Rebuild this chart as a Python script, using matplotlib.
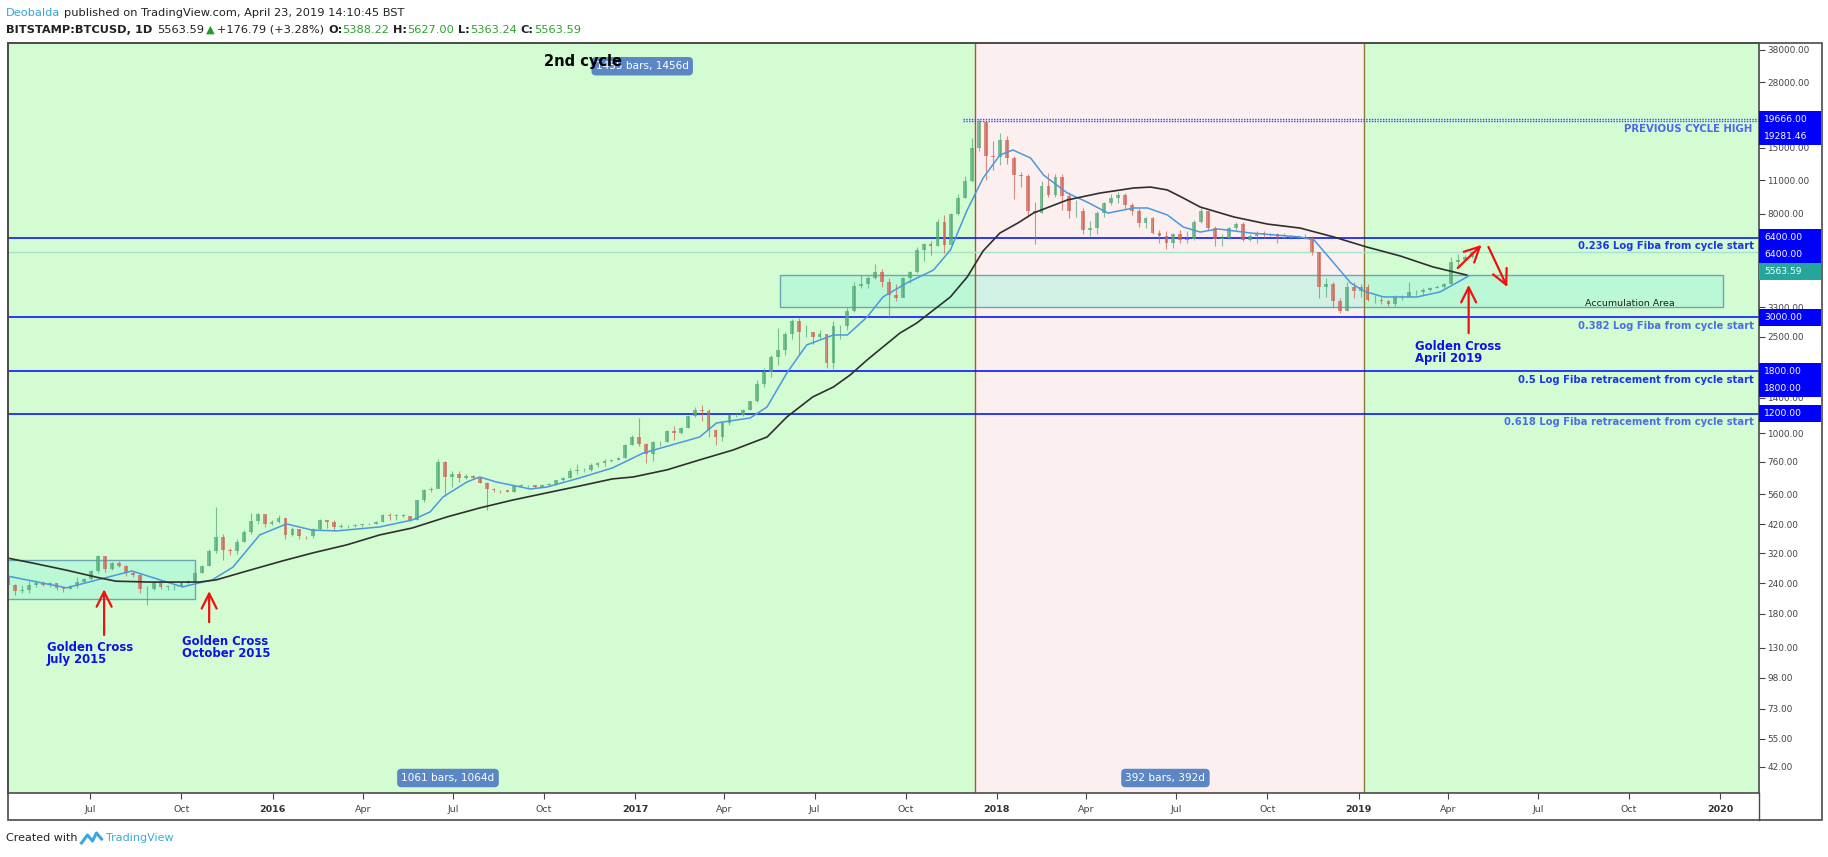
import numpy as np
import pandas as pd
import matplotlib
matplotlib.use('Agg')
import matplotlib.pyplot as plt
import matplotlib.dates as mdates
import matplotlib.ticker as mticker
from matplotlib.patches import Rectangle
from matplotlib.lines import Line2D
from matplotlib.transforms import blended_transform_factory

# ---------------- data (weekly candles, Bitstamp BTCUSD) ----------------
first_week = '2015-04-06'
first_open = 254.0

close_2015 = [236, 223, 226, 236, 240, 236, 240, 230, 228, 233, 244, 250, 270,
              310, 276, 291, 283, 265, 261, 228, 228, 240, 231, 233, 233, 240,
              245, 265, 284, 326, 373, 330, 325, 357, 390, 433, 465, 420, 430]
high_2015 = [261, 238, 237, 245, 247, 245, 242, 241, 232, 237, 256, 252, 272,
             315, 310, 293, 298, 285, 270, 265, 235, 242, 245, 237, 236, 242,
             248, 270, 286, 332, 495, 385, 335, 365, 400, 466, 470, 460, 440]
low_2015 = [234, 215, 218, 218, 231, 233, 232, 226, 221, 227, 230, 240, 248,
            266, 268, 272, 280, 258, 256, 220, 195, 226, 228, 225, 225, 234,
            236, 245, 265, 282, 320, 300, 315, 318, 355, 385, 420, 410, 418]

close_2016 = [448, 380, 401, 378, 375, 402, 438, 431, 410, 412, 415, 416, 420,
              423, 430, 460, 455, 459, 455, 440, 530, 580, 590, 760, 660, 680,
              650, 665, 655, 624, 590, 585, 581, 573, 607, 608, 610, 600, 612,
              615, 640, 655, 700, 705, 705, 740, 755, 770, 775, 790, 895, 960]
high_2016 = [458, 448, 410, 404, 378, 405, 443, 440, 440, 420, 418, 420, 423,
             426, 433, 465, 468, 465, 462, 456, 530, 590, 600, 780, 770, 700,
             700, 680, 670, 660, 630, 595, 585, 585, 610, 615, 612, 610, 614,
             620, 642, 660, 715, 745, 720, 750, 760, 778, 780, 795, 905, 980]
low_2016 = [425, 365, 375, 366, 365, 370, 400, 405, 395, 405, 405, 410, 410,
            416, 420, 428, 440, 440, 450, 435, 440, 520, 570, 600, 550, 600,
            630, 645, 650, 620, 480, 570, 565, 570, 570, 600, 600, 595, 598,
            605, 612, 635, 650, 680, 690, 700, 725, 730, 758, 775, 790, 890]

close_2017 = [900, 820, 920, 920, 1020, 1000, 1050, 1170, 1250, 1230, 1030, 960, 1100,
              1190, 1190, 1250, 1350, 1600, 1780, 2050, 2200, 2550, 2900, 2600, 2600, 2500,
              2550, 1950, 2750, 2750, 3200, 4050, 4100, 4350, 4600, 4200, 3700, 3600, 4350,
              4600, 5700, 6000, 5900, 7400, 5950, 8000, 9300, 10900, 15000, 19100, 13900, 13800]
high_2017 = [1150, 910, 930, 925, 1030, 1065, 1055, 1185, 1280, 1300, 1260, 1040, 1110,
             1200, 1210, 1260, 1350, 1650, 1850, 2100, 2700, 2600, 2950, 2980, 2800, 2600,
             2650, 2550, 2900, 2800, 3300, 4200, 4480, 4450, 4980, 4750, 4350, 4100, 4400,
             4650, 5850, 6100, 6200, 7600, 7900, 8100, 9700, 11500, 16500, 19666, 19200, 16000]
low_2017 = [880, 750, 770, 880, 915, 940, 990, 1045, 1160, 1120, 960, 890, 930,
            1080, 1160, 1180, 1240, 1340, 1550, 1700, 1900, 2100, 2450, 2100, 2500, 2320,
            2450, 1850, 1840, 2450, 2650, 3150, 3950, 3950, 4300, 4000, 2980, 3500, 3650,
            4150, 4550, 5100, 5400, 5900, 5500, 6300, 7900, 9300, 10800, 14500, 11000, 12100]

close_2018 = [16200, 13600, 11600, 11500, 8200, 8100, 10400, 9600, 11400, 9500, 8200, 8200, 6900,
              7000, 8100, 8900, 9300, 9600, 8700, 8200, 7350, 7700, 6700, 6500, 6100, 6600,
              6250, 6300, 7400, 8200, 7000, 6300, 6400, 7000, 7300, 6250, 6500, 6700, 6600,
              6600, 6400, 6450, 6350, 6400, 6350, 5600, 4000, 4100, 3500, 3200, 4000, 3850, 4000]
high_2018 = [17200, 16700, 13900, 11900, 11700, 9000, 10900, 11800, 11700, 11700, 9900, 9100, 8500,
             7500, 8200, 9000, 9700, 9900, 9800, 8900, 8500, 7800, 7800, 6900, 6800, 6650,
             6850, 6800, 7580, 8500, 8250, 7150, 6600, 7100, 7400, 7400, 6600, 6800, 6800,
             6700, 6700, 6650, 6550, 6550, 6600, 6500, 5600, 4350, 4200, 3600, 4200, 4200, 4100]
low_2018 = [12700, 12800, 9200, 10300, 7800, 6000, 8100, 9400, 9400, 8300, 7700, 7800, 6600,
            6500, 6600, 7800, 8700, 8900, 8400, 7950, 7100, 7000, 6600, 6100, 5750, 5800,
            6100, 6070, 6250, 7350, 6900, 5900, 5900, 6300, 6900, 6200, 6200, 6100, 6400,
            6500, 6100, 6350, 6300, 6300, 6300, 5400, 3600, 3650, 3300, 3122, 3200, 3600, 3650]

close_2019 = [3550, 3550, 3500, 3400, 3650, 3650, 3800, 3800, 3900, 3950, 4000, 4100,
              5050, 5150, 5300, 5563.59]
high_2019 = [4100, 3700, 3650, 3550, 3700, 3700, 4200, 3900, 3950, 4000, 4080, 4150,
             5300, 5450, 5400, 5627]
low_2019 = [3500, 3450, 3400, 3350, 3350, 3550, 3650, 3700, 3700, 3850, 3950, 3960,
            4100, 4900, 5100, 5250]

# 50 day (blue) and 200 day (black) moving averages, read at points along the curves
ma50_dates = ['2015-04-07', '2015-06-07', '2015-08-12', '2015-10-02', '2015-11-01', '2015-11-22',
              '2015-12-19', '2016-01-15', '2016-02-10', '2016-03-06', '2016-04-18', '2016-05-21',
              '2016-06-08', '2016-06-21', '2016-07-15', '2016-07-28', '2016-08-14', '2016-09-17',
              '2016-10-04', '2016-11-06', '2016-12-09', '2017-01-09', '2017-03-07', '2017-03-24',
              '2017-04-27', '2017-05-14', '2017-06-03', '2017-06-23', '2017-07-20', '2017-08-03',
              '2017-08-23', '2017-09-08', '2017-10-02', '2017-10-29', '2017-11-15', '2017-12-02',
              '2017-12-18', '2018-01-04', '2018-01-17', '2018-02-04', '2018-02-17', '2018-03-13',
              '2018-04-02', '2018-04-23', '2018-05-19', '2018-06-02', '2018-06-22', '2018-07-08',
              '2018-07-25', '2018-08-12', '2018-09-14', '2018-11-03', '2018-11-17', '2018-12-07',
              '2018-12-24', '2019-01-06', '2019-01-26', '2019-03-01', '2019-03-24', '2019-04-06',
              '2019-04-22']
ma50_vals = [258, 230, 270, 232, 248, 280, 380, 422, 398, 395, 410, 438, 473, 545, 628, 659, 628,
             588, 599, 653, 718, 827, 963, 1100, 1154, 1281, 1769, 2308, 2537, 2537, 3008, 3640,
             4157, 4700, 5682, 8310, 11260, 14000, 14690, 13610, 11580, 9760, 8960, 8070, 8470,
             8470, 7925, 7070, 6740, 6940, 6680, 6430, 6250, 5020, 4157, 3850, 3640, 3640, 3815,
             4080, 4440]

ma200_dates = ['2015-04-07', '2015-05-04', '2015-06-07', '2015-07-10', '2015-07-27', '2015-08-30',
               '2015-10-19', '2015-11-05', '2015-12-09', '2016-01-11', '2016-02-10', '2016-03-16',
               '2016-04-18', '2016-05-21', '2016-06-25', '2016-07-28', '2016-08-30', '2016-10-04',
               '2016-11-06', '2016-12-09', '2016-12-30', '2017-02-02', '2017-03-07', '2017-04-10',
               '2017-05-14', '2017-06-03', '2017-06-29', '2017-07-20', '2017-08-06', '2017-08-23',
               '2017-09-08', '2017-09-25', '2017-10-12', '2017-10-29', '2017-11-15', '2017-12-02',
               '2017-12-18', '2018-01-04', '2018-01-22', '2018-02-07', '2018-03-13', '2018-04-15',
               '2018-05-19', '2018-06-05', '2018-06-22', '2018-07-08', '2018-07-25', '2018-08-28',
               '2018-10-01', '2018-11-03', '2018-12-07', '2019-01-09', '2019-02-12', '2019-03-17',
               '2019-04-20']
ma200_vals = [306, 291, 272, 253, 245, 243, 243, 248, 272, 297, 320, 346, 380, 406, 451, 491, 529,
              567, 605, 647, 659, 705, 775, 852, 963, 1165, 1408, 1549, 1737, 2002, 2265, 2582,
              2840, 3215, 3640, 4400, 5630, 6680, 7340, 8080, 9140, 9760, 10240, 10330, 10050,
              9310, 8550, 7780, 7270, 7000, 6430, 5850, 5370, 4840, 4480]

fib_levels = [6400, 3000, 1800, 1200]
fib_labels = ['0.236 Log Fiba from cycle start', '0.382 Log Fiba from cycle start',
              '0.5 Log Fiba retracement from cycle start', '0.618 Log Fiba retracement from cycle start']
fib_colors = ['#1a36e6', '#4a6fe3', '#1a36e6', '#4a6fe3']
prev_highs = [19666, 19281.46]
last_price = 5563.59
cycle_edges = ['2017-12-10', '2019-01-06']

ytick_vals = [38000, 28000, 15000, 11000, 8000, 3300, 2500, 1400, 1000, 760, 560, 420, 320,
              240, 180, 130, 98, 73, 55, 42]
price_boxes = [19666, 19281.46, 6400, 6400, 5563.59, 3000, 1800, 1800, 1200]

# ---------------- figure ----------------
W, H = 1828, 857
fig = plt.figure(figsize=(W / 100, H / 100), dpi=100)
fig.patch.set_facecolor('white')
ax = fig.add_axes([8 / W, 1 - 793 / H, (1759 - 8) / W, (793 - 43) / H])
ax.set_yscale('log')
ax.set_ylim(32.8, 40560)
x0, x1 = mdates.datestr2num('2015-04-09'), mdates.datestr2num('2020-02-09')
ax.set_xlim(x0, x1)

def d(s):
    return mdates.datestr2num(s)

# background cycle shading
e1, e2 = d(cycle_edges[0]), d(cycle_edges[1])
ax.axvspan(x0, e1, color='#d3fcd3', lw=0, zorder=0)
ax.axvspan(e1, e2, color='#fbefef', lw=0, zorder=0)
ax.axvspan(e2, x1, color='#d3fcd3', lw=0, zorder=0)
ax.axvline(e1, color='#b4532f', lw=1.0, zorder=2)
ax.axvline(e2, color='#8c7a3a', lw=1.0, zorder=2)

# accumulation rectangles
for (a, b, lo, hi) in [('2015-03-20', '2015-10-15', 207, 300), ('2017-05-27', '2020-01-04', 3310, 4480)]:
    ax.add_patch(Rectangle((d(a), lo), d(b) - d(a), hi - lo, fc='#9ff5d9', alpha=0.45,
                           lw=0, zorder=1))
    ax.add_patch(Rectangle((d(a), lo), d(b) - d(a), hi - lo, fill=False, ec='#6aa6b4',
                           lw=1.0, zorder=1.5))
ax.text(d('2019-10-02'), 3420, 'Accumulation Area', ha='center', va='center', fontsize=6.8,
        color='#222222', zorder=6)

# fib lines and labels
tr = blended_transform_factory(ax.transAxes, ax.transData)
for lvl, lab, col in zip(fib_levels, fib_labels, fib_colors):
    ax.axhline(lvl, color='#0a1aff', lw=1.2, zorder=2)
    ax.annotate(lab, xy=(0.997, lvl), xycoords=tr, xytext=(0, -2.5), textcoords='offset points',
                ha='right', va='top', fontsize=7.2, fontweight='bold', color=col, zorder=6)

# last price line
ax.axhline(last_price, color='#a6e3c9', lw=1.0, zorder=2)

# previous cycle high (dotted)
for ph in prev_highs:
    ax.hlines(ph, d('2017-11-28'), x1, colors='#3a4cff', linestyles=(0, (1, 1)), lw=1.0, zorder=2)
ax.annotate('PREVIOUS CYCLE HIGH', xy=(0.996, prev_highs[1]), xycoords=tr, xytext=(0, -2),
            textcoords='offset points', ha='right', va='top', fontsize=7.3, fontweight='bold',
            color='#4f66ee', zorder=6)

# candles
closes = np.array(close_2015 + close_2016 + close_2017 + close_2018 + close_2019, dtype=float)
highs = np.array(high_2015 + high_2016 + high_2017 + high_2018 + high_2019, dtype=float)
lows = np.array(low_2015 + low_2016 + low_2017 + low_2018 + low_2019, dtype=float)
opens = np.concatenate([[first_open], closes[:-1]])
weeks = pd.date_range(first_week, periods=len(closes), freq='7D')
xc = mdates.date2num(weeks.to_pydatetime()) + 3.0
up = closes >= opens
cols = np.where(up, '#4fa874', '#cf5f4f')
ax.vlines(xc, lows, highs, colors=cols, lw=0.8, alpha=0.7, zorder=3)
ax.bar(xc, np.abs(closes - opens), bottom=np.minimum(opens, closes), width=3.8, color=cols,
       alpha=0.7, lw=0, zorder=3)

# moving averages
ax.plot([d(s) for s in ma50_dates], ma50_vals, color='#4b98dc', lw=1.1, zorder=4)
ax.plot([d(s) for s in ma200_dates], ma200_vals, color='#2f2f2f', lw=1.2, zorder=4)

# golden cross arrows + text
arr = dict(arrowstyle='->,head_length=0.9,head_width=0.45', color='#f01010', lw=1.6,
           shrinkA=0, shrinkB=0, mutation_scale=12)
for head, tail in [(('2015-07-15', 227), ('2015-07-15', 147)),
                   (('2015-10-29', 223), ('2015-10-29', 166)),
                   (('2019-04-22', 4080), ('2019-04-22', 2582)),
                   (('2019-05-05', 5960), ('2019-04-11', 4790)),
                   (('2019-05-31', 4000), ('2019-05-12', 5850))]:
    ax.annotate('', xy=(d(head[0]), head[1]), xytext=(d(tail[0]), tail[1]), arrowprops=arr,
                zorder=6)
gc_style = dict(fontsize=8.4, fontweight='bold', color='#1010e8', ha='left', va='top',
                linespacing=0.95, zorder=6)
ax.text(d('2015-05-18'), 139, 'Golden Cross\nJuly 2015', **gc_style)
ax.text(d('2015-10-02'), 147, 'Golden Cross\nOctober 2015', **gc_style)
ax.text(d('2019-02-27'), 2420, 'Golden Cross\nApril 2019', **gc_style)

# date range labels
trx = blended_transform_factory(ax.transData, ax.transAxes)
box = dict(boxstyle='round,pad=0.4', fc='#5b87c5', ec='none')
ax.text(d('2017-01-08'), 0.969, '1455 bars, 1456d', transform=trx, ha='center', va='center',
        fontsize=7.6, color='white', bbox=box, zorder=6)
ax.text(d('2016-06-26'), 0.02, '1061 bars, 1064d', transform=trx, ha='center', va='center',
        fontsize=7.6, color='white', bbox=box, zorder=6)
ax.text(d('2018-06-20'), 0.02, '392 bars, 392d', transform=trx, ha='center', va='center',
        fontsize=7.6, color='white', bbox=box, zorder=6)
ax.text(d('2016-10-01'), 0.975, '2nd cycle', transform=trx, ha='left', va='center',
        fontsize=10.5, fontweight='bold', color='black', zorder=7)

# axes styling
for sp in ax.spines.values():
    sp.set_color('#4a4a4a')
    sp.set_linewidth(1.2)
ax.yaxis.tick_right()
ax.set_yticks(ytick_vals)
ax.set_yticklabels(['%.2f' % v for v in ytick_vals])
ax.yaxis.set_minor_locator(mticker.NullLocator())
ax.tick_params(axis='y', labelsize=6.4, colors='#444444', length=4, width=0.8, pad=2)

xt = pd.date_range('2015-07-01', '2020-01-01', freq='QS')
ax.set_xticks(mdates.date2num(xt.to_pydatetime()))
ax.set_xticklabels([str(t.year) if t.month == 1 else t.strftime('%b') for t in xt])
ax.tick_params(axis='x', labelsize=6.8, colors='#444444', length=4, width=0.8, pad=5)
for lab, t in zip(ax.get_xticklabels(), xt):
    if t.month == 1:
        lab.set_fontweight('bold')
        lab.set_color('#333333')

# outer frame and right price-scale separator
fig.add_artist(Rectangle((8 / W, 1 - 820 / H), (1822 - 8) / W, (820 - 43) / H,
                         transform=fig.transFigure, fill=False, ec='#4a4a4a', lw=1.2))
fig.add_artist(Line2D([1759 / W, 1759 / W], [1 - 820 / H, 1 - 793 / H],
                      transform=fig.transFigure, color='#4a4a4a', lw=1.0))

# price labels on the right scale (stacked like TradingView)
prev_y = None
for v in price_boxes:
    y = ax.transData.transform((x0, v))[1]
    if prev_y is not None and prev_y - y < 17:
        y = prev_y - 17
    prev_y = y
    fc = '#26a69a' if v == last_price else '#0000ff'
    fig.add_artist(Rectangle((1759, y - 8.5), 62, 17, transform=None, fc=fc, ec='none',
                             zorder=5))
    t = fig.text(1764 / W, y / H, '%.2f' % v, color='white', fontsize=6.6, va='center',
                 ha='left')
    t.set_zorder(6)

# header and footer
renderer = fig.canvas.get_renderer()

def run_text(x, y, pieces, size):
    for s, color, weight, gap in pieces:
        t = fig.text(x / W, 1 - y / H, s, color=color, fontsize=size, fontweight=weight,
                     va='center', ha='left')
        x += t.get_window_extent(renderer).width + gap
    return x

run_text(6, 13, [('Deobalda', '#35a3dc', 'normal', 4),
                 ('published on TradingView.com, April 23, 2019 14:10:45 BST', '#222222', 'normal', 0)],
         8.2)
g = '#2aa52a'
run_text(6, 30, [('BITSTAMP:BTCUSD, 1D', '#222222', 'bold', 5), ('5563.59', '#222222', 'normal', 2),
                 ('\u25b2', '#1f9e1f', 'normal', 2), ('+176.79 (+3.28%)', '#222222', 'normal', 4),
                 ('O:', '#222222', 'bold', 0), ('5388.22', g, 'normal', 4),
                 ('H:', '#222222', 'bold', 0), ('5627.00', g, 'normal', 4),
                 ('L:', '#222222', 'bold', 0), ('5363.24', g, 'normal', 4),
                 ('C:', '#222222', 'bold', 0), ('5563.59', g, 'normal', 0)], 8.2)
xe = run_text(6, 838, [('Created with', '#222222', 'normal', 0)], 8.0)
run_text(xe + 28, 838, [('TradingView', '#39a9db', 'normal', 0)], 8.0)
# small logo between the two words
lx = xe + 4 + np.array([0, 6, 11, 15, 20])
ly = 838 + np.array([5, -3, 3, -5, 1])
fig.add_artist(Line2D(lx / W, 1 - ly / H, transform=fig.transFigure, color='#39a9db', lw=2.2))

fig.savefig('out.png', dpi=100)
